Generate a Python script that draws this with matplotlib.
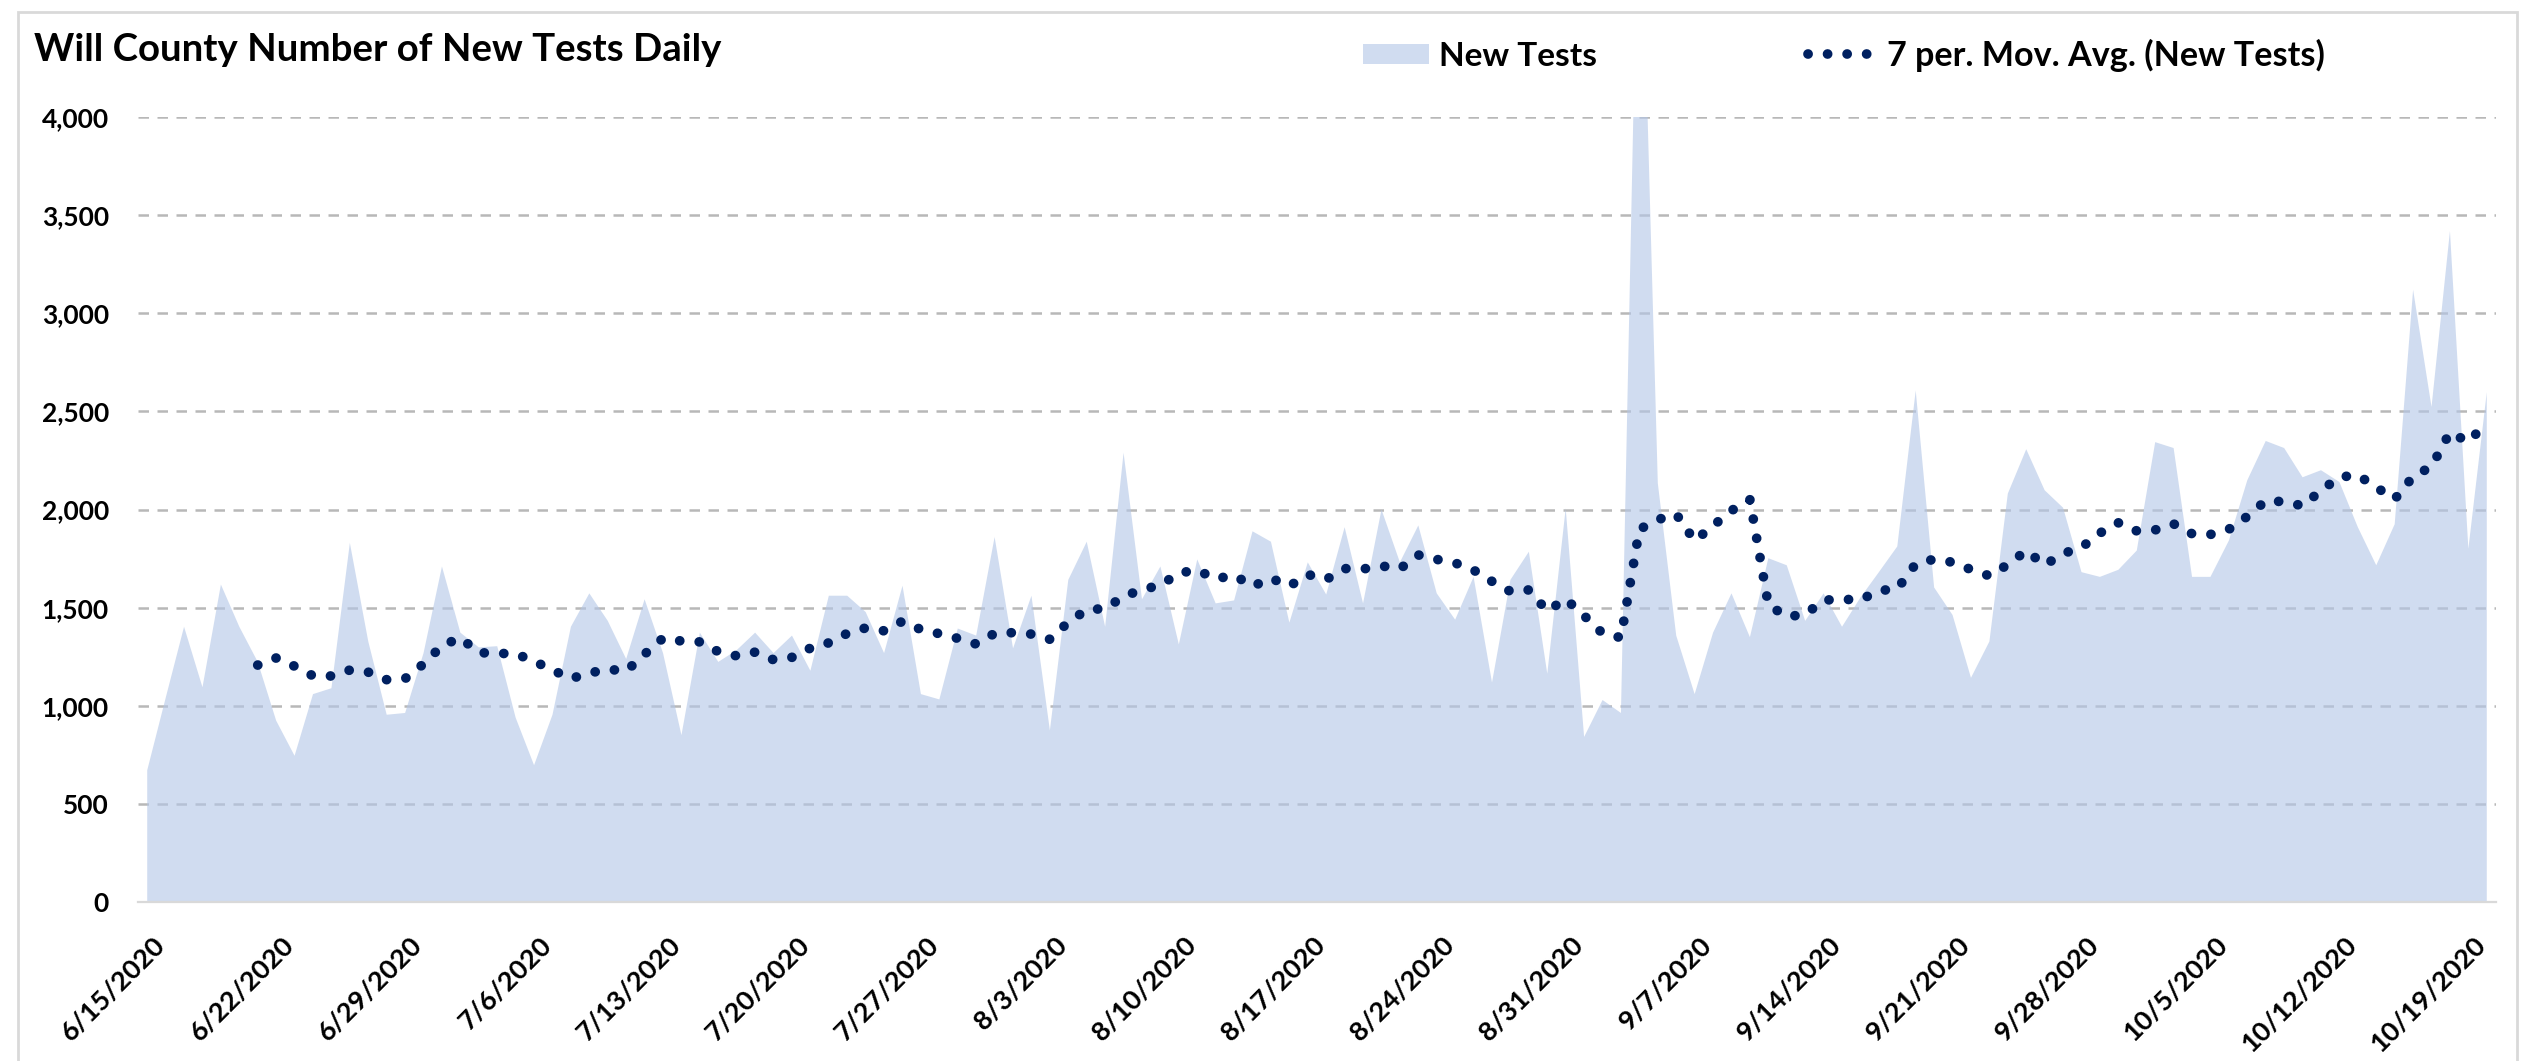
import numpy as np
import pandas as pd
import matplotlib
matplotlib.use("Agg")
import matplotlib.pyplot as plt
from matplotlib.patches import Rectangle
from matplotlib.lines import Line2D
import matplotlib.transforms as mtransforms

# Daily new tests, Will County, 6/15/2020 - 10/20/2020
new_tests = [
    672, 1040, 1403, 1095, 1618, 1403, 1224, 925, 746, 1060,
    1090, 1830, 1328, 955, 964, 1269, 1710, 1373, 1298, 1304,
    940, 698, 955, 1403, 1573, 1433, 1239, 1543, 1269, 851,
    1373, 1224, 1284, 1373, 1269, 1358, 1179, 1561, 1561, 1478,
    1269, 1612, 1060, 1033, 1394, 1358, 1860, 1293, 1561, 875,
    1642, 1836, 1403, 2289, 1543, 1710, 1313, 1746, 1522, 1537,
    1889, 1836, 1424, 1731, 1567, 1910, 1522, 2000, 1731, 1919,
    1573, 1439, 1657, 1119, 1642, 1785, 1164, 2006, 842, 1030,
    964, 5500, 2134, 1358, 1060, 1373, 1573, 1350, 1752, 1716,
    1433, 1573, 1403, 1552, 1681, 1812, 2606, 1603, 1463, 1143,
    1328, 2081, 2307, 2098, 2009, 1681, 1657, 1693, 1791, 2343,
    2313, 1657, 1657, 1842, 2149, 2349, 2313, 2164, 2200, 2140,
    1910, 1716, 1925, 3119, 2522, 3418, 1800, 2597,
]
start_date = "2020-06-15"
y_ticks = [0, 500, 1000, 1500, 2000, 2500, 3000, 3500, 4000]
title = "Will County Number of New Tests Daily"
legend_labels = ["New Tests", "7 per. Mov. Avg. (New Tests)"]

dates = pd.date_range(start_date, periods=len(new_tests), freq="D")
x = np.arange(len(new_tests))
tick_pos = x[::7]
tick_labels = [f"{d.month}/{d.day}/{d.year}" for d in dates[::7]]
moving_avg = pd.Series(new_tests).rolling(7).mean()

plt.rcParams["font.family"] = ["Lato", "DejaVu Sans"]
plt.rcParams["font.weight"] = "bold"

W, H = 2529, 1061
fig = plt.figure(figsize=(W / 100, H / 100), dpi=100)
ax = fig.add_axes([138 / W, 1 - 902.3 / H, (2496 - 138) / W, (902.3 - 116.7) / H])

area_color = "#B4C7E7"
area_alpha = 0.62
ma_color = "#002060"
dots = (0, (0.01, 2.0))

ax.fill_between(x, new_tests, 0, color=area_color, alpha=area_alpha, lw=0, zorder=2)
ax.plot(x, moving_avg, color=ma_color, lw=7, linestyle=dots,
        dash_capstyle="round", zorder=3)

ax.set_xlim(-0.5, len(new_tests) - 0.5)
ax.set_ylim(0, 4000)
ax.set_yticks(y_ticks)
ax.set_yticklabels([f"{v:,}" for v in y_ticks])
ax.yaxis.grid(True, color="#B8B8B8", lw=1.8, linestyle=(0, (4.2, 3.4)))
ax.set_axisbelow(True)

for s in ["top", "right", "left"]:
    ax.spines[s].set_visible(False)
ax.spines["bottom"].set_color("#D9D9D9")
ax.spines["bottom"].set_linewidth(1.6)

ax.tick_params(axis="y", length=0, pad=21, labelsize=19)
ax.tick_params(axis="x", length=0, pad=22, labelsize=19.5)
ax.set_xticks(tick_pos)
ax.set_xticklabels(tick_labels, rotation=45, ha="right", va="top",
                   rotation_mode="anchor")
shift = mtransforms.ScaledTranslation(0.05, 0, fig.dpi_scale_trans)
for lbl in ax.get_xticklabels():
    lbl.set_transform(lbl.get_transform() + shift)

# title
fig.text(34 / W, 1 - 61 / H, title, fontsize=27.6, fontweight="bold",
         ha="left", va="baseline")

# legend
fig.patches.append(Rectangle((1363 / W, 1 - 64 / H), 66 / W, 20 / H,
                             color=area_color, alpha=area_alpha, lw=0,
                             transform=fig.transFigure))
fig.text(1439 / W, 1 - 66 / H, legend_labels[0], fontsize=24,
         ha="left", va="baseline")
fig.lines.append(Line2D([1808 / W, 1868 / W], [1 - 54 / H, 1 - 54 / H],
                        color=ma_color, lw=7, linestyle=dots,
                        dash_capstyle="round", transform=fig.transFigure))
fig.text(1887 / W, 1 - 66 / H, legend_labels[1], fontsize=24.6,
         ha="left", va="baseline")

# chart border
fig.patches.append(Rectangle((18 / W, -0.05), (2517 - 18) / W, 1.05 - 12 / H,
                             fill=False, edgecolor="#D9D9D9", lw=2,
                             transform=fig.transFigure))

fig.savefig("out.png", dpi=100)
